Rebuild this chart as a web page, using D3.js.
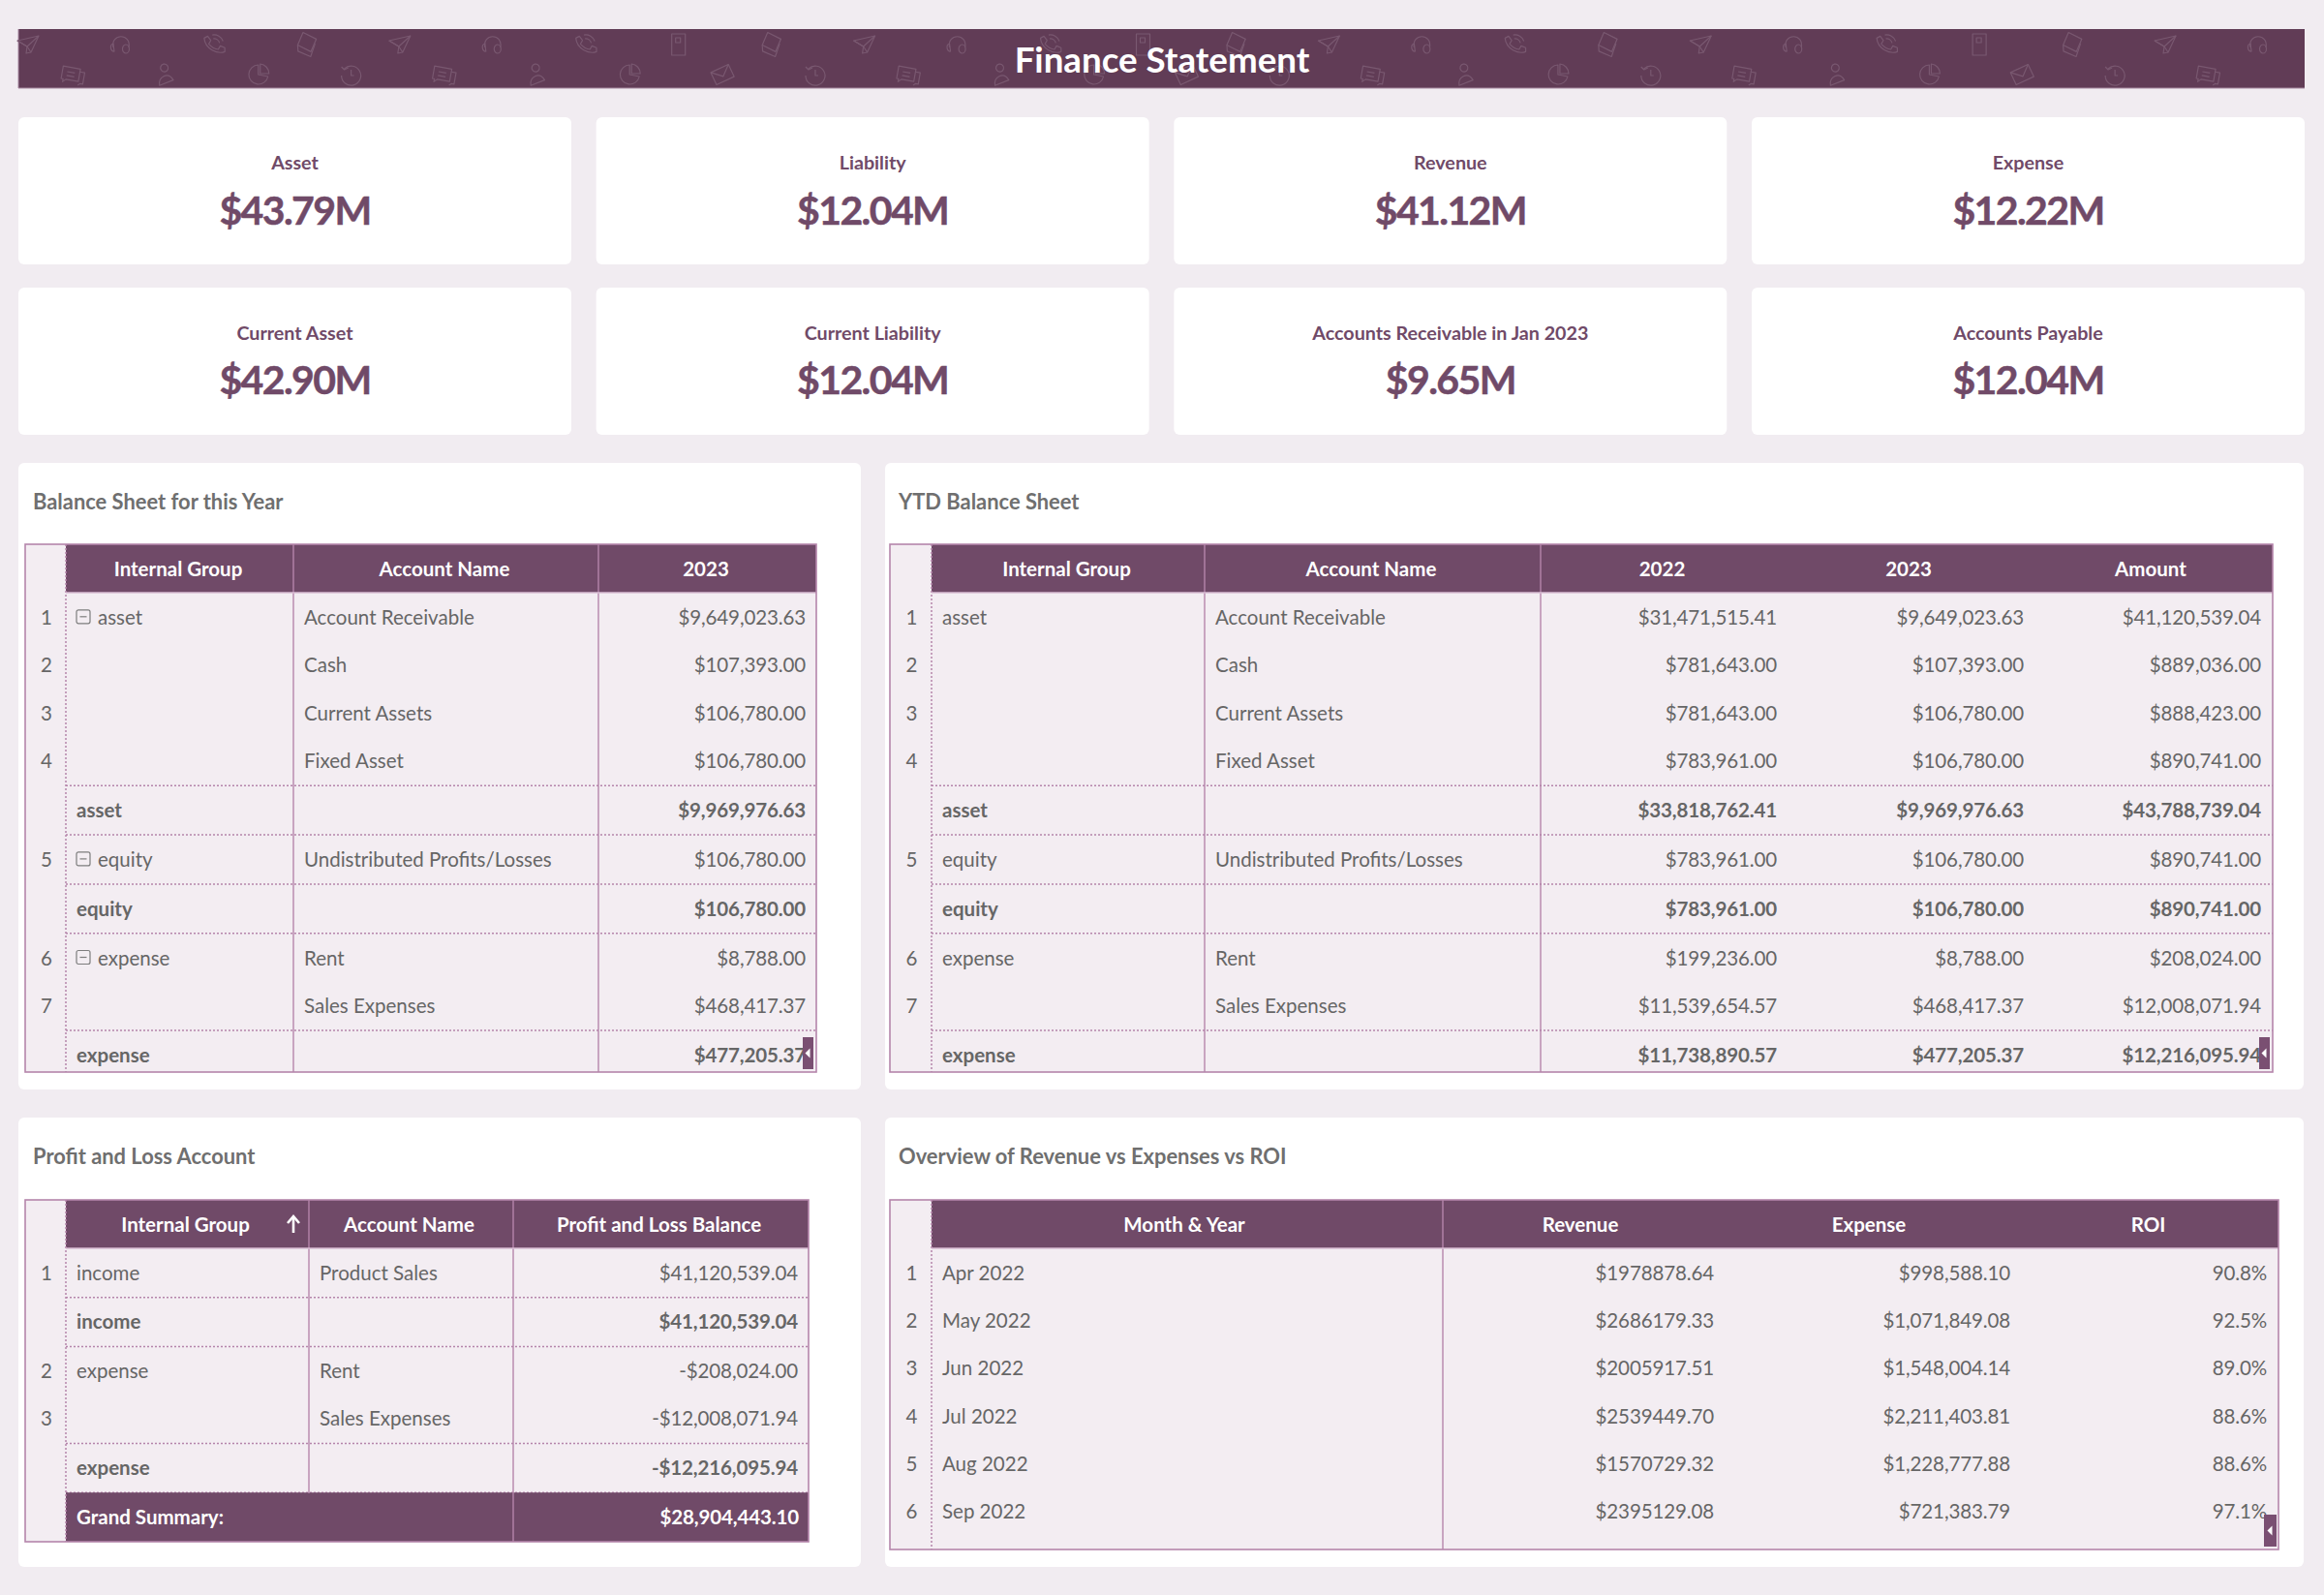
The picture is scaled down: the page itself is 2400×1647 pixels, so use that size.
<!DOCTYPE html>
<html><head><meta charset="utf-8"><title>Finance Statement</title>
<script src="https://cdn.jsdelivr.net/npm/d3@7"></script>
<style>html,body{margin:0;padding:0;background:#f1ecf1;overflow:hidden}svg{display:block;font-family:Lato,"Open Sans",sans-serif}</style>
</head><body><svg id="c" width="2400" height="1647"></svg>
<script>
// ---------- data ----------
const dashboardTitle = "Finance Statement";
const kpiLabels = ["Asset","Liability","Revenue","Expense","Current Asset","Current Liability","Accounts Receivable in Jan 2023","Accounts Payable"];
const kpiValues = [43.79,12.04,41.12,12.22,42.90,12.04,9.65,12.04];

const balanceKinds   = ["row","row","row","end","sum","end","sum","row","end","sum"];
const balanceNumbers = [1,2,3,4,"",5,"",6,7,""];
const balanceGroups  = ["asset","","","","asset","equity","equity","expense","","expense"];
const balanceAccounts= ["Account Receivable","Cash","Current Assets","Fixed Asset","","Undistributed Profits/Losses","","Rent","Sales Expenses",""];
const balance2023    = [9649023.63,107393,106780,106780,9969976.63,106780,106780,8788,468417.37,477205.37];
const balance2022    = [31471515.41,781643,781643,783961,33818762.41,783961,783961,199236,11539654.57,11738890.57];
const balanceAmount  = [41120539.04,889036,888423,890741,43788739.04,890741,890741,208024,12008071.94,12216095.94];

const plKinds    = ["end","sum","row","end","sum"];
const plNumbers  = [1,"",2,3,""];
const plGroups   = ["income","income","expense","","expense"];
const plAccounts = ["Product Sales","","Rent","Sales Expenses",""];
const plBalance  = [41120539.04,41120539.04,-208024,-12008071.94,-12216095.94];
const plGrandLabel = "Grand Summary:";
const plGrandValue = 28904443.10;

const overviewMonths  = ["Apr 2022","May 2022","Jun 2022","Jul 2022","Aug 2022","Sep 2022"];
const overviewRevenue = [1978878.64,2686179.33,2005917.51,2539449.70,1570729.32,2395129.08];
const overviewExpense = [998588.10,1071849.08,1548004.14,2211403.81,1228777.88,721383.79];
const overviewROI     = [0.908,0.925,0.890,0.886,0.886,0.971];

const iconsTop = ["plane","headset","phone","photos","plane","headset","phone","book","photos","plane","headset","phone","book","photos","plane","headset","phone","photos","plane","headset","phone","book","photos","plane","headset"];
const iconsBottom = ["chat","person","pie","clock","chat","person","pie","mail","clock","chat","person","pie","mail","clock","chat","person","pie","clock","chat","person","pie","mail","clock","chat"];

// ---------- style ----------
const C = {bg:"#f1ecf1",banner:"#613c56",head:"#704a68",cell:"#f3edf2",line:"#b585ab",text:"#666666",kpi:"#704a68",title:"#6f6f6f",handle:"#7a4f72"};
const money = d => d3.format("$,.2f")(d).replace("\u2212","-");
const plain2 = d => "$" + d3.format(".2f")(d);
const pct = d3.format(".1%");
const kpiFmt = d => "$" + d3.format(".2f")(d) + "M";

const svg = d3.select("#c");
svg.append("rect").attr("width",2400).attr("height",1647).attr("fill",C.bg);

// ---------- banner ----------
const banner = svg.append("g");
banner.append("rect").attr("x",19).attr("y",30).attr("width",2361).attr("height",61).attr("fill",C.banner);
banner.append("line").attr("x1",19).attr("x2",2380).attr("y1",91).attr("y2",91).attr("stroke","#a88aa2").attr("stroke-width",1.2);
banner.append("line").attr("x1",19).attr("x2",19).attr("y1",30).attr("y2",91).attr("stroke","#a88aa2").attr("stroke-width",1);
const iconPaths = {
  plane:{r:0,p:["M-11,-4 L11,-9 L3,8 L-1,2 Z","M-11,-4 L-1,2 L11,-9","M-1,2 L-2,9 L3,8"]},
  headset:{r:0,p:["M-8,3 C-11,-12 11,-12 8,3","M-8,-1 a3,4 0 1,0 1,8 Z","M5,0 a3.5,4.5 0 1,1 0,9 a3.5,4.5 0 1,1 0,-9"]},
  phone:{r:-15,p:["M-8,-9 L-4,-10 L-2,-5 L-5,-2 C-3,2 0,5 3,6 L6,3 L10,6 L9,10 C1,11 -10,2 -8,-9 Z","M1,-6 a6,6 0 0,1 5,6","M1,-10 a10,10 0 0,1 9,9"]},
  photos:{r:15,p:["M-7,-11 L8,-8 L6,6 L-9,3 Z","M-9,3 L-7,9 L7,11 L8,-3"]},
  book:{r:0,p:["M-7,-11 H7 V11 H-7 Z","M-3,-7 H2 V-2 H-3 Z"]},
  chat:{r:10,p:["M-11,-7 H7 V6 H-6 L-9,9 V6 H-11 Z","M-6,-2 H2","M-6,2 H2","M7,-4 H12 V8 H9 L7,10"]},
  person:{r:-10,p:["M0,-11 a4,4 0 1,0 0.1,0 Z","M-8,10 C-8,1 3,-3 7,7 Z"]},
  pie:{r:0,p:["M0,-10 A10,10 0 1,0 10,2 L0,0 Z","M2,-11 A10,10 0 0,1 11,-1 L2,-1 Z"]},
  clock:{r:0,p:["M-7,-6 A10,10 0 1,1 -10,1","M-10,-8 L-7,-5 L-3,-7","M0,-5 V1 H3"]},
  mail:{r:-25,p:["M-10,-7 H10 V7 H-10 Z","M-10,-7 L0,2 L10,-7"]}
};
function drawIcons(names, x0, x1, yc){
  const x = d3.scalePoint().domain(d3.range(names.length)).range([x0,x1]);
  names.forEach((n,i)=>{
    const ic = iconPaths[n];
    const g = banner.append("g").attr("transform",`translate(${x(i)},${yc}) rotate(${ic.r})`)
      .attr("fill","none").attr("stroke","#795870").attr("stroke-width",1.2).attr("stroke-linejoin","round");
    g.selectAll("path").data(ic.p).join("path").attr("d",d=>d);
  });
}
drawIcons(iconsTop,29,2332,46);
drawIcons(iconsBottom,75,2280,77);
banner.append("text").attr("x",1200).attr("y",60.5).attr("text-anchor","middle").attr("dominant-baseline","central")
  .attr("fill","#fff").attr("font-weight",700).attr("font-size",36.7).text(dashboardTitle);

// ---------- KPI cards ----------
const kpiX = d3.scaleBand().domain(d3.range(4)).range([19,2380]).paddingInner(0.043);
const kpiY = d3.scaleBand().domain(d3.range(2)).range([121,449]).paddingInner(0.136);
const kpi = svg.selectAll("g.kpi").data(kpiLabels).join("g").attr("class","kpi")
  .attr("transform",(d,i)=>`translate(${kpiX(i%4)},${kpiY(Math.floor(i/4))})`);
kpi.append("rect").attr("width",kpiX.bandwidth()).attr("height",kpiY.bandwidth()).attr("rx",6).attr("fill","#fff");
kpi.append("text").attr("x",kpiX.bandwidth()/2).attr("y",46.7).attr("text-anchor","middle").attr("dominant-baseline","central")
  .attr("fill",C.kpi).attr("font-weight",700).attr("font-size",19.7).text(d=>d);
kpi.append("text").attr("x",kpiX.bandwidth()/2).attr("y",95).attr("text-anchor","middle").attr("dominant-baseline","central")
  .attr("fill",C.kpi).attr("font-weight",700).attr("font-size",41).attr("letter-spacing",-1.6)
  .attr("stroke",C.kpi).attr("stroke-width",0.5).text((d,i)=>kpiFmt(kpiValues[i]));

// ---------- panels ----------
function panel(x0,x1,y0,y1,title){
  svg.append("rect").attr("x",x0).attr("y",y0).attr("width",x1-x0).attr("height",y1-y0).attr("rx",6).attr("fill","#fff");
  svg.append("text").attr("x",x0<100?x0+15:x0+14).attr("y",y0+39.5).attr("dominant-baseline","central")
    .attr("fill",C.title).attr("font-weight",700).attr("font-size",21.9).text(title);
}
panel(19,889,478,1125,"Balance Sheet for this Year");
panel(914,2379,478,1125,"YTD Balance Sheet");
panel(19,889,1154,1618,"Profit and Loss Account");
panel(914,2379,1154,1618,"Overview of Revenue vs Expenses vs ROI");

// ---------- table ----------
let clipId = 0;
const DOT = "2 2";
function drawTable(t){
  const g = svg.append("g");
  const id = "clip"+(clipId++);
  g.append("clipPath").attr("id",id).append("rect").attr("x",t.left).attr("y",t.top).attr("width",t.right-t.left).attr("height",t.bottom-t.top);
  const body = g.append("g").attr("clip-path",`url(#${id})`);
  const base = t.rowH, extra = 1.3;
  const heights = t.kinds.map(k => k==="row" ? base : base+extra);
  const tops = d3.cumsum([t.headBottom].concat(heights));
  body.append("rect").attr("x",t.left).attr("y",t.top).attr("width",t.right-t.left).attr("height",t.bottom-t.top).attr("fill",C.cell);
  body.append("rect").attr("x",t.rowCol).attr("y",t.top).attr("width",t.right-t.rowCol).attr("height",t.headBottom-t.top).attr("fill",C.head);
  const edge = i => t.edges[i], edgeR = i => t.edges[i+1];
  // header
  body.selectAll("text.h").data(t.columns).join("text").attr("class","h")
    .attr("x",(d,i)=>(edge(i)+edgeR(i))/2 + t.headShift + (d.shift||0)).attr("y",(t.top+t.headBottom)/2+0.3)
    .attr("text-anchor","middle").attr("dominant-baseline","central").attr("fill","#fff").attr("font-weight",700).attr("font-size",t.fontSize).text(d=>d.name);
  if(t.sortArrow){
    const a = g.append("g").attr("transform",`translate(${t.sortArrow},${(t.top+t.headBottom)/2})`).attr("fill","none").attr("stroke","#fff").attr("stroke-width",2.6);
    a.append("path").attr("d","M0,9 V-7");a.append("path").attr("d","M-6,-1 L0,-8 L6,-1");
  }
  // rows
  t.numbers.forEach((n,r)=>{
    const y0 = tops[r], y1 = tops[r+1], ym = y0 + t.textOff;
    const bold = t.kinds[r]==="sum";
    body.append("text").attr("x",(t.left+t.rowCol)/2+1).attr("y",ym).attr("text-anchor","middle").attr("dominant-baseline","central")
      .attr("fill",C.text).attr("font-size",t.fontSize).text(n);
    t.columns.forEach((c,i)=>{
      const v = c.values[r];
      if(v==="") return;
      const right = c.align==="right";
      let x = right ? edgeR(i)-t.padRight : edge(i)+t.padLeft;
      if(t.collapse && i===0 && !bold){
        x += 22;
        const b = g.append("g").attr("transform",`translate(${edge(i)+11},${ym-7})`).attr("fill","none").attr("stroke","#7d7d7d").attr("stroke-width",1.2);
        b.append("rect").attr("width",14).attr("height",14).attr("rx",2);
        b.append("line").attr("x1",3.5).attr("x2",10.5).attr("y1",7).attr("y2",7);
      }
      body.append("text").attr("x",x).attr("y",ym).attr("text-anchor",right?"end":"start").attr("dominant-baseline","central")
        .attr("fill",C.text).attr("font-weight",bold?700:400).attr("font-size",t.fontSize)
        .attr("letter-spacing",right?-0.12:0).text(c.fmt?c.fmt(v):v);
    });
    if(t.kinds[r]!=="row" && r < t.numbers.length-(t.grand?0:1))
      body.append("line").attr("x1",t.rowCol).attr("x2",t.right).attr("y1",y1).attr("y2",y1)
        .attr("stroke",C.line).attr("stroke-width",1.5).attr("stroke-dasharray",DOT);
  });
  if(t.grand){
    const y0 = tops[t.numbers.length];
    body.append("rect").attr("x",t.rowCol).attr("y",y0).attr("width",t.right-t.rowCol).attr("height",t.bottom-y0).attr("fill",C.head);
    const ym = (y0+t.bottom)/2 - 0.5;
    body.append("text").attr("x",t.rowCol+t.padLeft).attr("y",ym).attr("dominant-baseline","central").attr("fill","#fff").attr("font-weight",700).attr("font-size",t.fontSize).text(t.grand[0]);
    body.append("text").attr("x",t.right-t.padRight+1).attr("y",ym).attr("text-anchor","end").attr("dominant-baseline","central").attr("fill","#fff").attr("font-weight",700).attr("font-size",t.fontSize).attr("letter-spacing",-0.12).text(t.grand[1]);
  }
  // vertical rules
  g.selectAll("line.v").data(t.rules).join("line").attr("class","v").attr("x1",d=>d.x).attr("x2",d=>d.x).attr("y1",t.top).attr("y2",d=>d.to||t.bottom)
    .attr("stroke",C.line).attr("stroke-width",1.4);
  g.append("line").attr("x1",t.rowCol).attr("x2",t.rowCol).attr("y1",t.top).attr("y2",t.bottom)
    .attr("stroke",C.line).attr("stroke-width",1.5).attr("stroke-dasharray",DOT);
  g.append("line").attr("x1",t.rowCol).attr("x2",t.right).attr("y1",t.headBottom).attr("y2",t.headBottom).attr("stroke","#d9bdd3").attr("stroke-width",1.6);
  g.append("rect").attr("x",t.left).attr("y",t.top).attr("width",t.right-t.left).attr("height",t.bottom-t.top).attr("fill","none").attr("stroke",C.line).attr("stroke-width",1.6);
  if(t.handle){
    const [hx,hy,hw,hh] = t.handle;
    g.append("rect").attr("x",hx).attr("y",hy).attr("width",hw).attr("height",hh).attr("fill",C.handle);
    g.append("path").attr("d",`M${hx+hw/2+2},${hy+hh/2-5} L${hx+hw/2-3},${hy+hh/2} L${hx+hw/2+2},${hy+hh/2+5} Z`).attr("fill","#fff");
  }
}
const FS = 20.5;
drawTable({left:26,right:843,top:562,bottom:1107,headBottom:612,rowCol:68,rowH:49.5,textOff:24.8,fontSize:FS,padLeft:11,padRight:11,collapse:true,headShift:-1.5,
  edges:[68,303,618,843],kinds:balanceKinds,numbers:balanceNumbers,
  columns:[{name:"Internal Group",values:balanceGroups},{name:"Account Name",values:balanceAccounts},{name:"2023",values:balance2023,fmt:money,align:"right"}],
  rules:[{x:303},{x:618}],handle:[829,1071,11,33]});
drawTable({left:919,right:2347,top:562,bottom:1107,headBottom:612,rowCol:962,rowH:49.5,textOff:24.8,fontSize:FS,padLeft:11,padRight:10,headShift:-1.5,
  edges:[962,1244,1591,1845,2100,2345],kinds:balanceKinds,numbers:balanceNumbers,
  columns:[{name:"Internal Group",values:balanceGroups},{name:"Account Name",values:balanceAccounts},{name:"2022",values:balance2022,fmt:money,align:"right"},{name:"2023",values:balance2023,fmt:money,align:"right"},{name:"Amount",values:balanceAmount,fmt:money,align:"right"}],
  rules:[{x:1244},{x:1591}],handle:[2333,1071,11,33]});
drawTable({left:26,right:835,top:1239,bottom:1592,headBottom:1289,rowCol:68,rowH:49.4,textOff:24.6,fontSize:FS,padLeft:11,padRight:11,sortArrow:303,headShift:-2,
  edges:[68,319,530,835],kinds:plKinds,numbers:plNumbers,grand:[plGrandLabel,money(plGrandValue)],
  columns:[{name:"Internal Group",values:plGroups},{name:"Account Name",values:plAccounts},{name:"Profit and Loss Balance",values:plBalance,fmt:money,align:"right"}],
  rules:[{x:319,to:1542},{x:530}]});
drawTable({left:919,right:2353,top:1239,bottom:1600,headBottom:1289,rowCol:962,rowH:49.3,textOff:24.6,fontSize:FS,padLeft:11,padRight:10,headShift:-3,
  edges:[962,1490,1780,2086,2351],kinds:overviewMonths.map(()=>"row"),numbers:overviewMonths.map((d,i)=>i+1),
  columns:[{name:"Month & Year",values:overviewMonths},{name:"Revenue",values:overviewRevenue,fmt:plain2,align:"right"},{name:"Expense",values:overviewExpense,fmt:money,align:"right"},{name:"ROI",values:overviewROI,fmt:pct,align:"right",shift:3}],
  rules:[{x:1490}],handle:[2338,1564,13,33]});
</script></body></html>
